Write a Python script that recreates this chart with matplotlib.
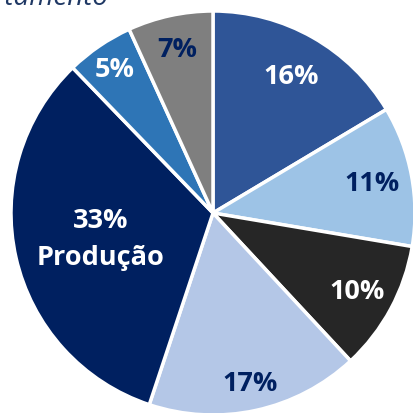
import numpy as np
import matplotlib
matplotlib.use("Agg")
import matplotlib.pyplot as plt

# slice values read clockwise from 12 o'clock (percent of total)
values = [16.4, 11.2, 10.4, 17.0, 32.6, 5.4, 6.8]
names = ["", "", "", "", "Produção", "", ""]
colors = ["#2F5597", "#9DC3E6", "#262626", "#B4C7E7", "#002060", "#2E75B6", "#7F7F7F"]
text_colors = ["white", "#002060", "white", "#002060", "white", "white", "#002060"]
label_r = [0.78, 0.80, 0.81, 0.86, 0.57, 0.86, 0.83]
title = "Distribuição por departamento"

W, H = 413, 414
cx, cy, R = 213, 214, 202

fig = plt.figure(figsize=(W / 100, H / 100), dpi=100)
ax = fig.add_axes([0, 0, 1, 1])

wedges, _ = ax.pie(values, colors=colors, startangle=90, counterclock=False,
                   radius=1.0, normalize=True,
                   wedgeprops=dict(edgecolor="white", linewidth=2.5))

fs = 19.5
for w, v, nm, tc, r in zip(wedges, values, names, text_colors, label_r):
    ang = np.radians((w.theta1 + w.theta2) / 2.0)
    x, y = r * np.cos(ang), r * np.sin(ang)
    if nm:
        ax.text(x, y + 0.09, "{:.0f}%".format(v), ha="center", va="center",
                fontsize=fs, fontweight="bold", color=tc, family="Open Sans")
        ax.text(x, y - 0.09, nm, ha="center", va="center",
                fontsize=fs, fontweight="bold", color=tc, family="Open Sans")
    else:
        ax.text(x, y, "{:.0f}%".format(v), ha="center", va="center",
                fontsize=fs, fontweight="bold", color=tc, family="Open Sans")

ax.set_xlim(-cx / R, (W - cx) / R)
ax.set_ylim(-(H - cy) / R, cy / R)
ax.set_aspect("auto")
ax.axis("off")

# title sits mostly above the visible area
fig.text(108 / W, 1 - 5 / H, title, ha="right", va="baseline", fontsize=20,
         style="italic", color="#1F3864", family="Open Sans")

fig.savefig("out.png", dpi=100)
